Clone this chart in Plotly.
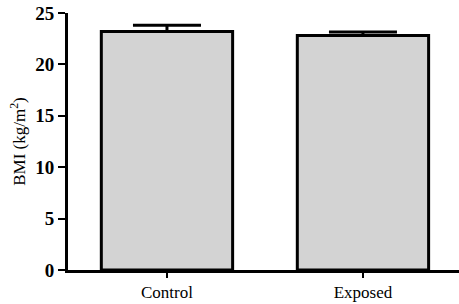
import plotly.graph_objects as go

categories = ["Control", "Exposed"]
means = [23.2, 22.8]
errors = [0.6, 0.35]
y_ticks = [0, 5, 10, 15, 20, 25]

FONT = "Liberation Serif, Times New Roman, serif"

fig = go.Figure()
fig.add_trace(go.Bar(
    x=categories,
    y=means,
    width=0.67,
    marker=dict(color="#d3d3d3", line=dict(color="black", width=3)),
    error_y=dict(type="data", symmetric=False, array=errors,
                 arrayminus=[0] * len(errors),
                 color="black", thickness=3, width=34),
))

fig.update_layout(
    width=459, height=304,
    margin=dict(l=68, r=0, t=13, b=34, autoexpand=False),
    plot_bgcolor="white", paper_bgcolor="white",
    showlegend=False,
    font=dict(family=FONT, color="black"),
    bargap=0.33,
)
fig.update_xaxes(
    range=[-0.505, 1.49],
    showline=True, linecolor="black", linewidth=3,
    ticks="outside", ticklen=5, tickwidth=2, tickcolor="black",
    tickfont=dict(size=17, family=FONT),
    showgrid=False, zeroline=False, automargin=False,
)
fig.update_yaxes(
    range=[0, 25], tickvals=y_ticks,
    ticktext=[f"<b>{v}</b>" for v in y_ticks],
    showline=True, linecolor="black", linewidth=3,
    ticks="outside", ticklen=7, tickwidth=2, tickcolor="black",
    tickfont=dict(size=19, family=FONT),
    title=dict(text="BMI (kg/m<sup>2</sup>)", font=dict(size=17, family=FONT), standoff=6),
    showgrid=False, zeroline=False, automargin=False,
)

fig.write_html("out.html", config={"displayModeBar": False},
               post_script="document.body.style.margin='0';document.body.style.overflow='hidden';")
